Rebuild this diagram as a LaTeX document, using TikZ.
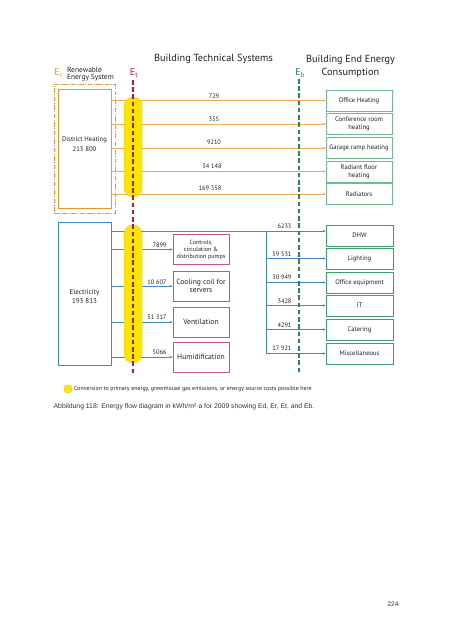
\documentclass[tikz,border=0pt]{standalone}
\usepackage{fontspec}
\setmainfont{PT Sans}
\newfontfamily\capfont{Liberation Sans}
\usetikzlibrary{arrows.meta}
\definecolor{orline}{HTML}{F2A65A}
\definecolor{orbox}{HTML}{E8953A}
\definecolor{eor}{HTML}{E8912E}
\definecolor{ered}{HTML}{A31F34}
\definecolor{egreen}{HTML}{238B4E}
\definecolor{gbox}{HTML}{6DBE8C}
\definecolor{gboxb}{HTML}{3F9E6B}
\definecolor{bl}{HTML}{3D8BC4}
\definecolor{rbox}{HTML}{C25A6E}
\definecolor{yel}{HTML}{FFE500}
\definecolor{yeld}{HTML}{D9C400}
\definecolor{txt}{HTML}{231F20}
\definecolor{captxt}{HTML}{333333}
\tikzset{
  endbox/.style={draw=gbox, line width=0.8pt, minimum width=86.9pt, minimum height=27.6pt, inner sep=1pt, align=center, text=txt, font=\fontsize{8.7}{10.8}\selectfont},
  endboxb/.style={endbox, draw=gboxb, minimum width=88.2pt},
  techbox/.style={draw=rbox, line width=0.8pt, minimum width=73.7pt, minimum height=39.5pt, inner sep=1pt, align=center, text=txt, font=\fontsize{10}{11}\selectfont},
  num/.style={font=\fontsize{8.4}{9}\selectfont, text=txt, inner sep=0.5pt},
  tip/.style={-{Stealth[length=3.6pt,width=3pt]}},
  oflow/.style={draw=orline, line width=1pt, tip},
  bflow/.style={draw=bl, line width=1pt, tip},
  pill/.style={fill=yel, draw=yeld, line width=0.4pt, minimum width=23.7pt, rounded corners=11.8pt, inner sep=0pt},
  bound/.style={line width=1.7pt, dash pattern=on 6pt off 3.5pt},
  elabel/.style={font=\fontsize{13}{13}\selectfont, inner sep=0pt},
  head/.style={font=\fontsize{13.5}{17}\selectfont, text=txt, align=center, inner sep=0pt},
  plain/.style={text=txt, align=center, inner sep=0pt}
}
\begin{document}
\begin{tikzpicture}[x=1.3165pt,y=-1.3165pt]
\useasboundingbox (0,0) rectangle (452,640);

% headers
\node[head] (h1) at (213.5,59) {Building Technical Systems};
\node[head] (h2) at (350.5,66.5) {Building End Energy\\Consumption};
\node[elabel, text=eor] (er) at (58.5,73) {E\textsubscript{r}};
\node[plain, align=left, anchor=west, font=\fontsize{9.8}{9.4}\selectfont] (res) at (67,74.5) {Renewable\\Energy System};
\node[elabel, text=ered] (et) at (134,73) {E\textsubscript{t}};
\node[elabel, text=egreen] (eb) at (300,73) {E\textsubscript{b}};

% left boxes
\node[draw=orbox, line width=0.8pt, dash pattern=on 6pt off 2pt on 1.2pt off 2pt, minimum width=80.3pt, minimum height=169.8pt] (resbox) at (84.5,148.5) {};
\node[draw=orbox, line width=0.8pt, minimum width=69.8pt, minimum height=156.7pt] (dh) at (84.5,148.5) {};
\node[plain, font=\fontsize{8.8}{12.5}\selectfont] (dhtext) at (84.5,144) {District Heating\\213 800};
\node[draw=bl, line width=0.9pt, minimum width=69.8pt, minimum height=188.3pt] (elec) at (84.5,293.5) {};
\node[plain, font=\fontsize{9.3}{12}\selectfont] (eltext) at (84.5,296.5) {Electricity\\193 813};

% end use boxes (heat)
\node[endbox] (b1) at (359,100.5) {Office Heating};
\node[endbox] (b2) at (359,124) {Conference room\\heating};
\node[endbox] (b3) at (359,148) {Garage ramp heating};
\node[endbox] (b4) at (359,171.5) {Radiant floor\\heating};
\node[endbox] (b5) at (359,194) {Radiators};

% end use boxes (electricity)
\node[endboxb] (c1) at (359.5,235.5) {DHW};
\node[endboxb] (c2) at (359.5,258.5) {Lighting};
\node[endboxb] (c3) at (359.5,282.5) {Office equipment};
\node[endboxb] (c4) at (359.5,305.5) {IT};
\node[endboxb] (c5) at (359.5,329.5) {Catering};
\node[endboxb] (c6) at (359.5,353.5) {Miscellaneous};

% technical systems
\node[techbox, font=\fontsize{8}{9.2}\selectfont] (t1) at (201,249.5) {Controls,\\circulation \&\\distribution pumps};
\node[techbox] (t2) at (201,286) {Cooling coil for\\servers};
\node[techbox] (t3) at (201,322) {Ventilation};
\node[techbox] (t4) at (201,357) {Humidification};

% heat flows
\foreach \b in {b1,b2,b3,b4,b5}{
  \draw[oflow] (dh.east |- \b.west) -- (\b.west);
}
% electricity flows
\coordinate (split) at (266,231);
\draw[bflow] (elec.east |- split) -- (c1.west |- split);
\draw[bflow] (split) |- (c6.west);
\foreach \c in {c2,c3,c4,c5}{
  \draw[bflow] (split |- \c.west) -- (\c.west);
}
\foreach \t in {t1,t2,t3,t4}{
  \draw[bflow] (elec.east |- \t.west) -- (\t.west);
}

% conversion pills
\node[pill, minimum height=131.6pt] (p1) at (133,147) {};
\node[pill, minimum height=181.7pt] (p2) at (133,294) {};

% boundaries
\coordinate (et1) at (133,80);
\coordinate (et2) at (133,374);
\coordinate (eb1) at (299,79);
\coordinate (eb2) at (299,374);
\draw[bound, ered] (et1) -- (et2);
\draw[bound, egreen] (eb1) -- (eb2);

% numbers
\node[num, anchor=south] (n1) at (214,99.5) {729};
\node[num, anchor=south] (n2) at (214,122.5) {355};
\node[num, anchor=south] (n3) at (214,145.5) {9210};
\node[num, anchor=south] (n4) at (212,169.5) {34 148};
\node[num, anchor=south] (n5) at (210,191.5) {169 358};
\node[num, anchor=south east] (m1) at (292,229) {6233};
\node[num, anchor=south east] (m2) at (292,257) {59 531};
\node[num, anchor=south east] (m3) at (292,280) {30 949};
\node[num, anchor=south east] (m4) at (292,304) {3428};
\node[num, anchor=south east] (m5) at (292,328) {4291};
\node[num, anchor=south east] (m6) at (292,351.5) {17 921};
\node[num, anchor=south east] (k1) at (167,248) {7899};
\node[num, anchor=south east] (k2) at (167,285.5) {10 607};
\node[num, anchor=south east] (k3) at (167,320.5) {51 317};
\node[num, anchor=south east] (k4) at (167,355.5) {5066};

% legend
\node[circle, fill=yel, draw=yeld, line width=0.4pt, minimum size=11pt, inner sep=0pt] (lc) at (68,389) {};
\node[plain, anchor=west, font=\fontsize{7.8}{8}\selectfont] (lt) at (74,389) {Conversion to primary energy, greenhouse gas emissions, or energy source costs possible here};

% caption
\node[anchor=west, inner sep=0pt, text=captxt, font=\capfont\fontsize{9}{10}\selectfont] (cap) at (53.5,407) {Abbildung 118: Energy flow diagram in kWh/m²·a for 2009 showing Ed, Er, Et, and Eb.};
\node[inner sep=0pt, text=captxt, font=\capfont\fontsize{8.6}{10}\selectfont] (page) at (393,604) {224};
\end{tikzpicture}
\end{document}
